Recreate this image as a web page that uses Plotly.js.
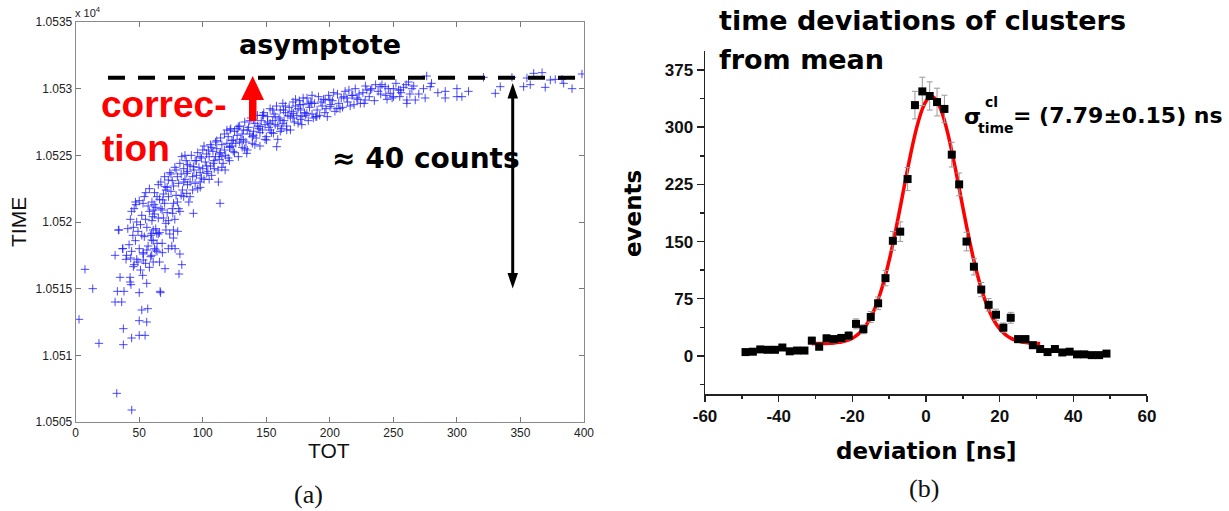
<!DOCTYPE html>
<html><head><meta charset="utf-8">
<script src="https://cdn.plot.ly/plotly-3.0.1.min.js"></script>
<style>html,body{margin:0;padding:0;background:#fff;}#chart{width:1229px;height:511px;}</style>
</head><body><div id="chart"></div>
<script>
// ---------- Panel (a): TOT vs TIME scatter (TIME in counts) ----------
const totVals = [
41,42,43,44,45,46,46,47,48,48,49,50,50,51,52,52,53,54,54,55,55,56,57,57,58,58,59,59,60,60,
61,62,62,63,63,64,65,65,66,66,67,68,68,69,70,70,71,72,72,73,74,74,75,76,76,77,78,78,79,80,
80,81,82,82,83,84,85,85,86,87,88,88,89,90,90,91,92,93,94,94,95,96,97,98,98,99,100,100,101,102,
103,104,105,106,106,107,108,109,110,110,111,112,113,114,114,115,116,117,118,119,120,120,121,122,123,124,125,126,127,128,
129,130,131,132,133,134,135,136,137,138,139,140,141,142,143,144,145,146,147,148,149,150,151,152,153,154,155,156,157,158,
159,160,161,162,163,164,165,166,168,169,170,171,172,173,174,175,176,177,178,179,180,182,183,184,185,186,187,188,190,191,
192,194,195,197,198,199,201,202,204,206,207,209,210,212,214,216,218,220,222,224,226,228,231,233,235,238,241,244,246,249,
252,256,258,263,266,
7.3,13.4,2.6,18.3,32.3,44.1,37.5,37.5,44,50,54.6,50,55.9,56.7,52,31,36.2,32.8,38,50,
34.9,42.8,42.8,43.5,52.7,55.9,66.4,66.8,70.3,81.3,83.5,82,31,37,39.6,40,43.3,45.4,53.2,53.2,
59.8,61,63.2,66,68.2,72.9,75.6,76.9,78.2,80.3,59.8,64,59.8,61,71,34,
33.6,37,45.4,47.5,55.1,61.7,60.6,63.8,68.5,70.3,72.9,76.4,76.9,83.5,87.4,87.4,92.6,92.6,97.9,97.9,
103.1,104.4,108.3,112.3,113.6,117.6,115,121.5,124.1,121.5,128,132,134.6,139.8,139.8,145.1,147.7,150.2,153,155.6,
158.2,160.9,163.5,166.1,171.3,176.6,177.9,181.9,185.8,189.7,196.3,200.2,205.5,213.4,217.3,221.3,227.8,229.1,239.6,247.5,
254,260.6,243.5,250.1,255.4,261.9,264.6,260.6,267.2,273.7,275,279,276.2,290.8,290.8,300,300,303.9,309.1,320.9,
330.2,334.1,343.3,352.5,355.1,360.4,367,369.5,373.5,377.4,384,390.6,398.4,382.7,357.7,
44,47,49,51,53,56,58,61,62,64,65,67,69,71,73,75,77,79,81,83,85,86,88,90,92,95,96,99,101,103,
105,107,109,111,113,115,117,119,121,123,125,127,129,131,133,135,137,139,141,143,145,147,149,151,153,155,157,159,161,163,
165,167,169,171,173,175,177,179,181,183,186,189,193,196,200,203,208,211,215,219,223,227,232,236,240,245,250,255,260,270,280,285
];
const timeVals = [
10519.5,10518.3,10520.2,10517.8,10519.0,10516.8,10521.0,10518.6,10520.0,10517.2,10519.3,10521.6,10518.0,10516.4,10520.5,10519.0,10517.6,10521.9,10518.9,10520.2,
10516.9,10519.6,10521.2,10518.2,10520.8,10522.5,10519.0,10517.4,10521.5,10520.1,
10518.6,10522.2,10520.6,10519.5,10521.1,10517.8,10522.8,10520.3,10521.7,10519.2,10523.0,10520.9,10518.4,10522.1,10521.4,10523.4,10519.9,10522.6,10520.7,10521.9,
10523.7,10519.1,10522.3,10521.0,10523.1,10522.7,10520.2,10524.1,10522.0,10523.4,
10521.5,10522.9,10524.4,10520.8,10523.6,10522.4,10524.0,10521.9,10523.2,10524.6,10522.8,10523.8,10521.5,10524.2,10523.0,10525.0,10522.4,10523.9,10524.6,10522.9,
10523.5,10525.2,10524.1,10522.6,10523.7,10524.8,10524.0,10525.4,10523.2,10524.5,
10525.1,10523.8,10524.9,10525.8,10524.2,10523.5,10525.3,10524.6,10526.0,10524.9,10525.5,10523.9,10524.7,10526.3,10525.2,10525.8,10524.4,10526.6,10525.0,10525.9,
10526.4,10524.8,10525.6,10527.0,10526.1,10525.3,10526.8,10525.9,10526.5,10524.9,
10527.2,10526.2,10525.6,10526.9,10527.5,10526.0,10525.4,10527.1,10526.6,10527.8,10525.9,10526.8,10527.4,10526.3,10528.0,10527.0,10525.7,10527.6,10526.9,10528.2,
10527.3,10526.4,10527.9,10527.1,10528.5,10526.7,10527.6,10528.1,10527.3,10528.7,
10526.2,10527.8,10528.4,10527.0,10528.9,10527.6,10528.2,10527.2,10528.6,10527.9,10528.3,10529.0,10527.5,10528.7,10528.0,10527.4,10529.1,10528.4,10527.9,10528.8,
10528.2,10529.3,10527.6,10528.6,10529.0,10528.1,10527.8,10528.9,10528.4,10529.4,
10528.0,10528.7,10529.2,10528.5,10527.9,10529.5,10528.8,10529.1,10528.3,10529.6,10528.9,10529.3,10528.6,10529.8,10529.0,10528.7,10529.5,10530.0,10529.2,10528.9,
10529.7,10530.2,10529.4,10530.0,10529.1,10529.8,10530.3,10529.5,10530.0,10529.3,
10530.4,10529.7,10530.1,10529.6,10530.2,
10516.45,10515.0,10512.7,10510.9,10507.15,10505.9,10510.8,10512.0,10511.3,10511.5,10511.5,10512.6,10512.5,10513.5,10513.4,10514.0,10514.0,10514.8,10514.8,10514.7,
10515.85,10515.85,10515.5,10515.3,10516.0,10515.4,10514.8,10514.7,10516.5,10516.1,10516.8,10517.6,10517.5,10518.0,10517.2,10517.5,10517.3,10516.65,10517.7,10517.15,
10517.5,10517.0,10517.9,10517.0,10517.7,10518.0,10518.2,10518.8,10518.0,10519.3,10518.65,10518.4,10519.15,10519.4,10519.4,10519.4,
10519.4,10518.0,10519.6,10521.3,10522.2,10521.3,10520.4,10519.15,10521.65,10522.65,10523.15,10520.65,10519.4,10524.9,10523.65,10522.15,10520.65,10524.15,10524.9,10523.0,
10523.65,10525.4,10524.4,10523.0,10521.4,10523.9,10524.9,10525.65,10526.15,10526.9,10527.15,10526.15,10525.15,10526.5,10527.65,10527.15,10528.0,10526.15,10527.4,10526.65,
10525.65,10527.65,10528.4,10526.9,10528.15,10528.8,10527.3,10528.15,10528.9,10527.9,10529.15,10528.65,10528.5,10529.3,10529.5,10529.3,10529.15,10529.9,10530.15,10529.65,
10529.9,10529.15,10530.15,10529.4,10529.9,10530.5,10530.0,10528.9,10529.15,10530.0,10529.3,10530.15,10530.95,10529.8,10529.3,10530.0,10529.4,10529.4,10529.8,10530.85,
10529.65,10530.15,10530.85,10530.15,10530.8,10531.15,10531.2,10530.1,10530.65,10530.7,10530.4,10530.0,10531.1,10530.7,10530.3,
10520.8,10521.5,10517.0,10519.8,10521.4,10517.9,10516.6,10520.9,10518.0,10521.9,10519.1,10521.0,10520.3,10522.4,10520.1,10523.6,10521.4,10523.9,10521.0,10522.0,
10523.0,10525.0,10524.3,10521.9,10523.4,10524.6,10522.5,10523.3,10525.7,10524.2,
10523.2,10525.6,10524.0,10526.1,10525.1,10524.1,10525.4,10526.9,10524.6,10525.7,10525.2,10527.0,10526.0,10526.6,10525.5,10526.9,10527.6,10526.4,10525.8,10527.2,
10526.7,10528.0,10526.2,10527.5,10526.9,10528.4,10527.9,10527.2,10526.8,10527.4,
10528.7,10528.0,10526.9,10527.8,10529.2,10528.5,10527.7,10529.3,10528.0,10528.9,10529.5,10527.9,10529.0,10528.2,10529.2,10529.7,10528.5,10529.4,10529.9,10528.8,
10529.6,10528.9,10529.9,10530.3,10529.6,10529.2,10530.0,10529.4,10530.3,10529.6,10530.4,10529.7
];
const totTicks = [0,50,100,150,200,250,300,350,400];
const timeTickVals = [10505,10510,10515,10520,10525,10530,10535];
const timeTickText = ['1.0505','1.051','1.0515','1.052','1.0525','1.053','1.0535'];

// ---------- Panel (b): histogram of time deviations ----------
const deviation = [-49,-47,-45,-43,-41,-39,-37,-35,-33,-31,-29,-27,-25,-23,-21,-19,-17,-15,-13,-11,
  -9,-7,-5,-3,-1,1,3,5,7,9,11,13,15,17,19,21,23,25,27,29,31,33,35,37,39,41,43,45,47,49];
const events = [5,5.5,8.5,8,8,11,6,7,7,20,12,23,22,23.5,26.5,42,35,51,69,102,
  151,163,232,329,347,341,333,324,264,225,150,117,87,67,54,37,50,22,22,14,9,5,9,4.5,5.5,2,2,1,1,3];
const eventErr = [2.2,2.3,2.9,2.8,2.8,3.3,2.4,2.6,2.6,4.5,3.5,4.8,4.7,4.8,5.1,6.5,5.9,7.1,8.3,10.1,
  12.3,12.8,15.2,18.1,18.6,18.5,18.2,18,16.2,15,12.2,10.8,9.3,8.2,7.3,6.1,7.1,4.7,4.7,3.7,3,2.2,3,2.1,2.3,1.4,1.4,1,1,1.7];
const fitX = [-31,-30,-29,-28,-27,-26,-25,-24,-23,-22,-21,-20,-19,-18,-17,-16,-15,-14,-13,-12,-11,-10,-9,-8,-7,-6,-5,-4,-3,-2,-1,
  0,1,2,3,4,5,6,7,8,9,10,11,12,13,14,15,16,17,18,19,20,21,22,23,24,25,26,27,28,29,30,31];
const fitY = [16.0,16.1,16.2,16.3,16.4,16.6,17.0,17.6,18.3,19.5,21.1,23.3,26.3,30.3,35.5,42.1,50.5,61.1,73.6,88.5,105.8,125.2,146.9,170.3,194.9,220.1,245.0,268.6,290.4,308.9,323.8,
  334.2,339.4,339.4,334.2,323.8,308.9,290.4,268.6,245.0,220.1,194.9,170.3,146.9,125.2,105.8,88.5,73.6,61.1,50.5,42.1,35.5,30.3,26.3,23.3,21.1,19.5,18.3,17.6,17.0,16.6,16.4,16.3];
const devTicks = [-60,-40,-20,0,20,40,60];
const devTickText = ['-60','-40','-20','0','20','40','60'];
const eventTicks = [0,75,150,225,300,375];

// ---------- layout helpers (pixel -> paper) ----------
const W = 1229, H = 511;
const px = x => x / W;
const py = y => 1 - y / H;

const traces = [
  {type:'scatter', mode:'markers', x: totVals, y: timeVals, xaxis:'x', yaxis:'y',
   marker:{symbol:'cross-thin-open', size:6, color:'rgba(30,30,255,0.8)', line:{width:1, color:'rgba(30,30,255,0.8)'}}},
  {type:'scatter', mode:'lines', x: fitX, y: fitY, xaxis:'x2', yaxis:'y2',
   line:{color:'#ff0000', width:3.5, shape:'spline'}},
  {type:'scatter', mode:'markers', x: deviation, y: events, xaxis:'x2', yaxis:'y2',
   marker:{symbol:'square', size:8, color:'#000'},
   error_y:{type:'data', array: eventErr, visible:true, color:'#999', thickness:1, width:3}}
];

const smallFont = {family:'Liberation Sans, Arial, sans-serif', size:12, color:'#222'};
const boldTick = {family:'Liberation Sans, Arial, sans-serif', size:17, color:'#111'};
const bold = a => a.map(v => '<b>' + v + '</b>');

function ann(x, y, text, font, extra) {
  return Object.assign({xref:'paper', yref:'paper', x:px(x), y:py(y), text:text, showarrow:false,
    xanchor:'center', yanchor:'middle', font:font}, extra || {});
}
const dv = (size, color) => ({family:'DejaVu Sans, sans-serif', size:size, color:color || '#000', weight:'bold'});
const lib = (size, color, w) => ({family:'Liberation Sans, Arial, sans-serif', size:size, color:color || '#111', weight:w || 'normal'});
const serif = {family:'Liberation Serif, DejaVu Serif, serif', size:26, color:'#111'};

const layout = {
  width: W, height: H, margin:{l:0,r:0,t:0,b:0},
  paper_bgcolor:'#fff', plot_bgcolor:'#fff', showlegend:false,
  xaxis:{domain:[px(75.7), px(584)], range:[0,400], anchor:'y', tickvals: totTicks,
    ticks:'inside', ticklen:5, tickcolor:'#777', mirror:'ticks', showline:true, linecolor:'#8a8a8a', linewidth:1,
    showgrid:false, zeroline:false, tickfont: smallFont},
  yaxis:{domain:[py(422), py(22)], range:[10505,10535], anchor:'x', tickvals: timeTickVals, ticktext: timeTickText,
    ticks:'inside', ticklen:5, tickcolor:'#777', mirror:'ticks', showline:true, linecolor:'#8a8a8a', linewidth:1,
    showgrid:false, zeroline:false, tickfont: smallFont},
  xaxis2:{domain:[px(705), px(1147)], range:[-60,60], anchor:'y2', tickvals: devTicks, ticktext: bold(devTickText),
    ticks:'outside', ticklen:6, tickwidth:1.5, tickcolor:'#222',
    minor:{dtick:10, tick0:0, ticks:'outside', ticklen:3, tickwidth:1.5, tickcolor:'#222'},
    showline:true, linecolor:'#222', linewidth:1.5, showgrid:false, zeroline:false, tickfont: boldTick},
  yaxis2:{domain:[py(394), py(51)], range:[-50,400], anchor:'x2', tickvals: eventTicks, ticktext: bold(eventTicks),
    ticks:'outside', ticklen:7, tickwidth:1.5, tickcolor:'#222',
    minor:{dtick:37.5, tick0:0, ticks:'outside', ticklen:4, tickwidth:1.5, tickcolor:'#222'},
    showline:true, linecolor:'#222', linewidth:1.5, showgrid:false, zeroline:false, tickfont: boldTick},
  annotations: [
    ann(88, 12, 'x 10<sup>4</sup>', lib(11, '#222')),
    ann(18, 222, 'TIME', lib(21), {textangle:-90}),
    ann(329, 450, 'TOT', lib(21)),
    ann(309, 494, '(a)', serif),
    ann(320, 45, 'asymptote', dv(27)),
    ann(99, 105, 'correc-', lib(37, '#ff0000', 'bold'), {xanchor:'left'}),
    ann(100, 149, 'tion', lib(37, '#ff0000', 'bold'), {xanchor:'left'}),
    ann(330, 158, '≈ 40 counts', dv(28), {xanchor:'left'}),
    ann(717, 21, 'time deviations of clusters', dv(27), {xanchor:'left'}),
    ann(717, 59, 'from mean', dv(27), {xanchor:'left'}),
    ann(633, 214, 'events', dv(23), {textangle:-90}),
    ann(926, 451, 'deviation [ns]', dv(23)),
    ann(924, 488, '(b)', serif),
    ann(972, 116, 'σ', dv(22)),
    ann(991, 102, 'cl', dv(14)),
    ann(996, 128, 'time', dv(14)),
    ann(1011, 115, '= (7.79±0.15) ns', dv(22), {xanchor:'left'})
  ],
  shapes: [
    {type:'line', xref:'paper', yref:'paper', x0:px(108), x1:px(578), y0:py(77.7), y1:py(77.7),
     line:{color:'#000', width:4, dash:'17px,13px'}},
    {type:'rect', xref:'paper', yref:'paper', x0:px(249), x1:px(256.5), y0:py(121), y1:py(99),
     fillcolor:'#ff0000', line:{width:0}},
    {type:'path', xref:'paper', yref:'paper',
     path:`M ${px(241)},${py(100)} L ${px(264)},${py(100)} L ${px(252.7)},${py(76)} Z`,
     fillcolor:'#ff0000', line:{width:0}},
    {type:'line', xref:'paper', yref:'paper', x0:px(512.7), x1:px(512.7), y0:py(96), y1:py(275),
     line:{color:'#000', width:3}},
    {type:'path', xref:'paper', yref:'paper',
     path:`M ${px(507.5)},${py(98.5)} L ${px(518)},${py(98.5)} L ${px(512.7)},${py(83)} Z`,
     fillcolor:'#000', line:{width:0}},
    {type:'path', xref:'paper', yref:'paper',
     path:`M ${px(507.5)},${py(273)} L ${px(518)},${py(273)} L ${px(512.7)},${py(288.5)} Z`,
     fillcolor:'#000', line:{width:0}}
  ]
};

Plotly.newPlot('chart', traces, layout, {staticPlot:true, displayModeBar:false});
</script>
</body></html>
